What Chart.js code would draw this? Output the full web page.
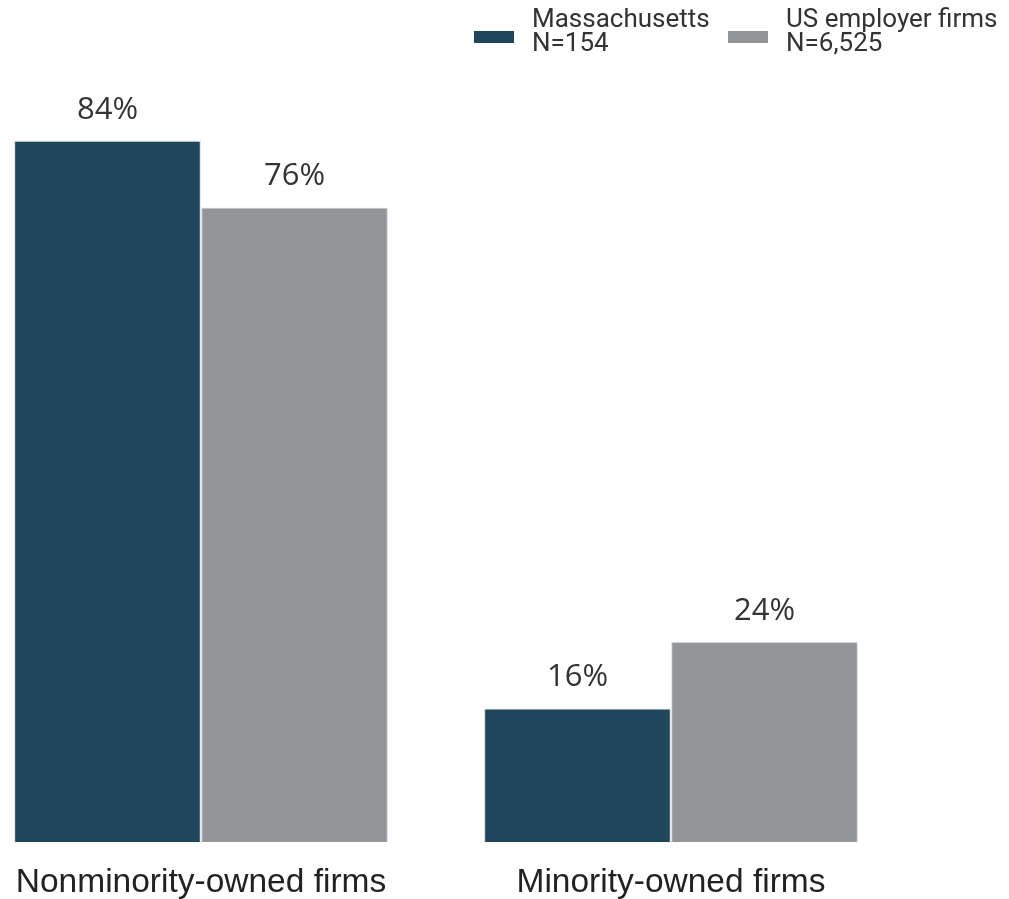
<!DOCTYPE html>
<html>
<head>
<meta charset="utf-8">
<script src="https://cdn.jsdelivr.net/npm/chart.js@4.4.1/dist/chart.umd.min.js"></script>
<style>
  html, body { margin: 0; padding: 0; background: #ffffff; }
  #wrap { width: 1009px; height: 899px; position: relative; }
</style>
</head>
<body>
<div id="wrap"><canvas id="c" width="1009" height="899"></canvas></div>
<script>
const categories = ["Nonminority-owned firms", "Minority-owned firms"];
const massValues = [84, 16];
const usValues = [76, 24];
const seriesNames = [["Massachusetts", "N=154"], ["US employer firms", "N=6,525"]];
const seriesColors = ["#20465c", "#939598"];

const valueLabels = {
  id: 'valueLabels',
  afterDatasetsDraw(chart) {
    const ctx = chart.ctx;
    ctx.save();
    ctx.font = '31px "Open Sans"';
    ctx.fillStyle = '#333333';
    ctx.textAlign = 'center';
    ctx.textBaseline = 'alphabetic';
    chart.data.datasets.forEach((ds, di) => {
      chart.getDatasetMeta(di).data.forEach((bar, i) => {
        ctx.fillText(ds.data[i] + '%', bar.x, bar.y - 22);
      });
    });
    ctx.restore();
  }
};

const customLegend = {
  id: 'customLegend',
  afterDraw(chart) {
    const ctx = chart.ctx;
    ctx.save();
    const starts = [474, 728];
    ctx.font = '26px Roboto';
    ctx.textBaseline = 'alphabetic';
    ctx.textAlign = 'left';
    chart.data.datasets.forEach((ds, di) => {
      const x = starts[di];
      ctx.fillStyle = ds.backgroundColor;
      ctx.fillRect(x, 31, 40, 12);
      ctx.fillStyle = '#333333';
      seriesNames[di].forEach((line, li) => {
        ctx.fillText(line, x + 58, 27 + li * 24);
      });
    });
    ctx.restore();
  }
};

new Chart(document.getElementById('c'), {
  type: 'bar',
  data: {
    labels: categories,
    datasets: [
      { label: seriesNames[0].join(' '), data: massValues, backgroundColor: seriesColors[0], borderColor: '#e3e6e8', borderWidth: 1.2, clip: false },
      { label: seriesNames[1].join(' '), data: usValues, backgroundColor: seriesColors[1], borderColor: '#e3e6e8', borderWidth: 1.2, clip: false }
    ]
  },
  options: {
    responsive: false,
    animation: false,
    layout: { padding: { left: 201, right: 338, top: 7, bottom: 0 } },
    datasets: { bar: { categoryPercentage: 0.796, barPercentage: 1.0 } },
    plugins: { legend: { display: false }, tooltip: { enabled: false } },
    scales: {
      x: {
        offset: false,
        grid: { display: false, drawTicks: false },
        border: { display: false },
        ticks: { padding: 21, color: '#222222', font: { family: '"Liberation Sans", Arial', size: 33.5 }, maxRotation: 0, autoSkip: false },
        afterFit(scale) { scale.paddingLeft = 0; scale.paddingRight = 0; scale.height = 57; }
      },
      y: { display: false, min: 0, max: 100 }
    }
  },
  plugins: [valueLabels, customLegend]
});
</script>
</body>
</html>
